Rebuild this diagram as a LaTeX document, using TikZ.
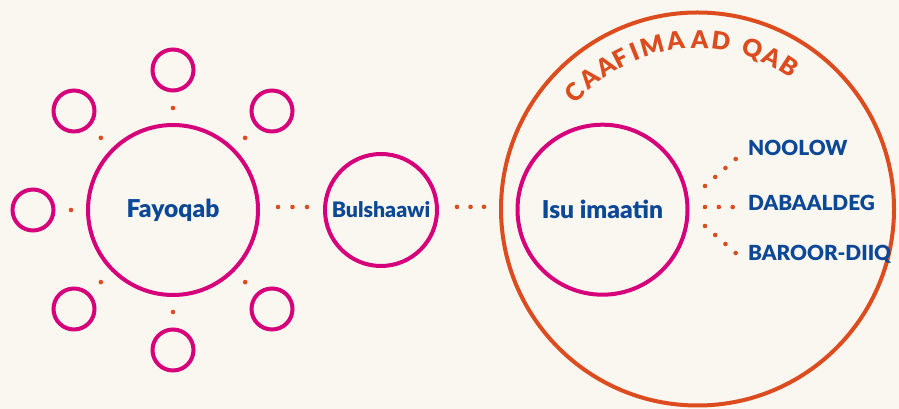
\documentclass[tikz,border=0pt]{standalone}
\usepackage{fontspec}
\setmainfont{Lato}
\IfFontExistsTF{Lato Black}{\newfontfamily\heavy{Lato Black}}{\newfontfamily\heavy{Lato}[UprightFont=* Bold]}
\definecolor{bg}{RGB}{250,247,240}
\definecolor{mag}{RGB}{214,0,122}
\definecolor{org}{RGB}{221,76,30}
\definecolor{txt}{RGB}{12,72,150}
\begin{document}
\begin{tikzpicture}[x=1pt,y=1pt,
  ring/.style={circle, draw=mag, line width=4pt, inner sep=0pt},
  dotline/.style={draw=org, line width=4.6pt, line cap=round, dash pattern=on 0pt off 14.5pt},
  lab/.style={text=txt, font=\heavy\fontsize{24.6}{28}\selectfont},
  rlab/.style={text=txt, font=\heavy\fontsize{20.8}{24}\selectfont, anchor=base west, inner sep=0pt},
  arcl/.style={text=org, font=\heavy\fontsize{24.5}{28}\selectfont, inner sep=0pt, anchor=base}]
\fill[bg] (0,0) rectangle (899,409);
\useasboundingbox (0,0) rectangle (899,409);
% outer orange circle
\node[circle, draw=org, line width=4pt, inner sep=0pt, minimum size=393pt] (O) at (697.5,200) {};
% main circles
\node[ring, minimum size=170pt, lab] (F) at (173,199) {Fayoqab};
\node[ring, minimum size=112pt, lab, font=\heavy\fontsize{21.3}{24}\selectfont] (B) at (381,199) {Bulshaawi};
\node[ring, minimum size=170pt, lab] (I) at (602.5,199.3) {Isu imaatin};
% satellites
\foreach \a in {45,90,135,180,225,270,315}{
  \path (F.center) ++(\a:140) node[ring, minimum size=41pt] (s\a) {};
  \draw[dotline, shorten <=15pt, shorten >=15pt] (F) -- (s\a);
}
% connectors between main circles
\draw[dotline, shorten <=18pt, shorten >=15.6pt] ([yshift=3pt]F.east) -- ([yshift=3pt]B.west);
\draw[dotline, dash pattern=on 0pt off 13.5pt, shorten <=18pt, shorten >=31.3pt] ([yshift=3pt]B.east) -- ([yshift=3pt]I.west);
% right labels
\node[rlab] (noo) at (748,253) {NOOLOW};
\node[rlab] (dab) at (748,198.3) {DABAALDEG};
\node[rlab] (bar) at (748,148.3) {BAROOR-DIIQ};
\coordinate (t0) at (705,223);   \coordinate (t1) at (735.8,250.1);
\coordinate (m0) at (705,202);   \coordinate (m1) at (732.8,202);
\coordinate (b0) at (705,183);   \coordinate (b1) at (735.8,155.9);
\draw[dotline, dash pattern=on 0pt off 13.62pt] (t0) -- (t1);
\draw[dotline, dash pattern=on 0pt off 13.85pt] (m0) -- (m1);
\draw[dotline, dash pattern=on 0pt off 13.62pt] (b0) -- (b1);
% arc title
\foreach \ch/\ang [count=\k] in {C/136.4, A/129.6, A/122.9, F/117.1, I/111.9, M/105.6, A/97.4, A/89.3, D/82.0, Q/71.0, A/63.7, B/57.2}{
  \path (O.center) ++(\ang:160.5) node[arcl, rotate=\ang-90] (arc\k) {\ch};
}
\end{tikzpicture}
\end{document}
